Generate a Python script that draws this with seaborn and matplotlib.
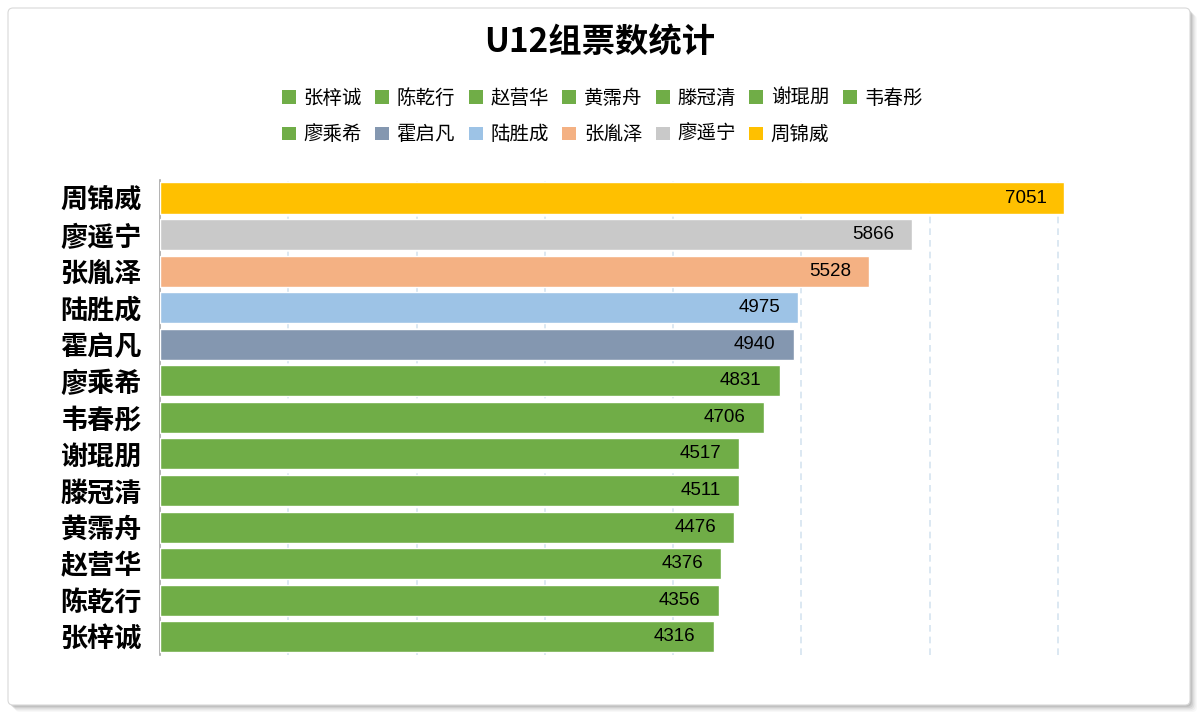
import matplotlib
matplotlib.use('Agg')
import matplotlib.pyplot as plt
import seaborn as sns
import pandas as pd
from matplotlib.patches import FancyBboxPatch, Patch

# top to bottom, as shown in the chart
names = ['周锦威', '廖遥宁', '张胤泽', '陆胜成', '霍启凡', '廖乘希', '韦春彤',
         '谢琨朋', '滕冠清', '黄霈舟', '赵营华', '陈乾行', '张梓诚']
votes = [7051, 5866, 5528, 4975, 4940, 4831, 4706, 4517, 4511, 4476, 4376, 4356, 4316]
colors = ['#FFC000', '#C9C9C9', '#F4B183', '#9DC3E6', '#8497B0', '#70AD47', '#70AD47',
          '#70AD47', '#70AD47', '#70AD47', '#70AD47', '#70AD47', '#70AD47']
grid_ticks = [1000, 2000, 3000, 4000, 5000, 6000, 7000]

df = pd.DataFrame({'name': names, 'votes': votes})
palette = dict(zip(names, colors))

sns.set_style('white')
plt.rcParams['font.family'] = ['Noto Sans CJK SC', 'DejaVu Sans']
plt.rcParams['text.color'] = 'black'

fig = plt.figure(figsize=(12, 7.19), dpi=100)

# frame with a soft shadow
for k, a in enumerate([0.05, 0.08, 0.12, 0.16, 0.22]):
    off = 0.07 - k * 0.013
    fig.patches.append(FancyBboxPatch((0.08 + off, 0.14 - off), 11.82, 6.97,
                                      boxstyle='round,pad=0,rounding_size=0.05',
                                      transform=fig.dpi_scale_trans,
                                      facecolor='#7F7F7F', edgecolor='none', alpha=a, zorder=-3))
fig.patches.append(FancyBboxPatch((0.08, 0.14), 11.82, 6.97,
                                  boxstyle='round,pad=0,rounding_size=0.05',
                                  transform=fig.dpi_scale_trans,
                                  facecolor='white', edgecolor='#D9D9D9', linewidth=0.8, zorder=-2))

ax = fig.add_axes([0.1333, 0.089, 0.759, 0.661])
ax.set_zorder(5)
ax.set_facecolor('none')
sns.barplot(data=df, x='votes', y='name', hue='name', palette=palette, order=names,
            hue_order=names, width=0.85, saturation=1, legend=False, ax=ax, zorder=3)

ax.set_xlim(0, 7100)
ax.set_ylim(12.5, -0.5)
ax.set_xticks(grid_ticks)
ax.set_xticklabels([])
ax.grid(axis='x', linestyle=(0, (4, 3)), color='#D6E4F0', linewidth=1.2, zorder=0)
ax.set_axisbelow(True)
ax.tick_params(axis='both', length=0)
ax.tick_params(axis='y', pad=13)
for lbl in ax.get_yticklabels():
    lbl.set_fontsize(19.5)
    lbl.set_fontweight('bold')
    lbl.set_color('black')
ax.set_xlabel('')
ax.set_ylabel('')
for side in ['top', 'right', 'bottom']:
    ax.spines[side].set_visible(False)
ax.spines['left'].set_color('#A6A6A6')
ax.spines['left'].set_linewidth(1.2)

for i, v in enumerate(votes):
    ax.annotate(str(v), (v, i), xytext=(-13, 0), textcoords='offset points',
                ha='right', va='center', fontsize=13.5, family='Liberation Sans',
                color='black', zorder=4)

# legend: bottom-to-top order, row-major over a 7-column grid
leg_names = names[::-1]
row1, row2 = leg_names[:7], leg_names[7:]
order = []
for j in range(7):
    order.append(row1[j])
    if j < len(row2):
        order.append(row2[j])
handles = [Patch(facecolor=palette[n], edgecolor='none') for n in order]
fig.legend(handles, order, ncol=7, loc='upper center', bbox_to_anchor=(0.502, 0.902),
           frameon=False, fontsize=14, handlelength=0.7, handleheight=0.7,
           handletextpad=0.4, columnspacing=0.7, labelspacing=0.78)

fig.text(0.5, 1 - 42 / 719, 'U12组票数统计', ha='center', va='center',
         fontsize=24, fontweight='bold', color='black')

fig.savefig('out.png', dpi=100)
